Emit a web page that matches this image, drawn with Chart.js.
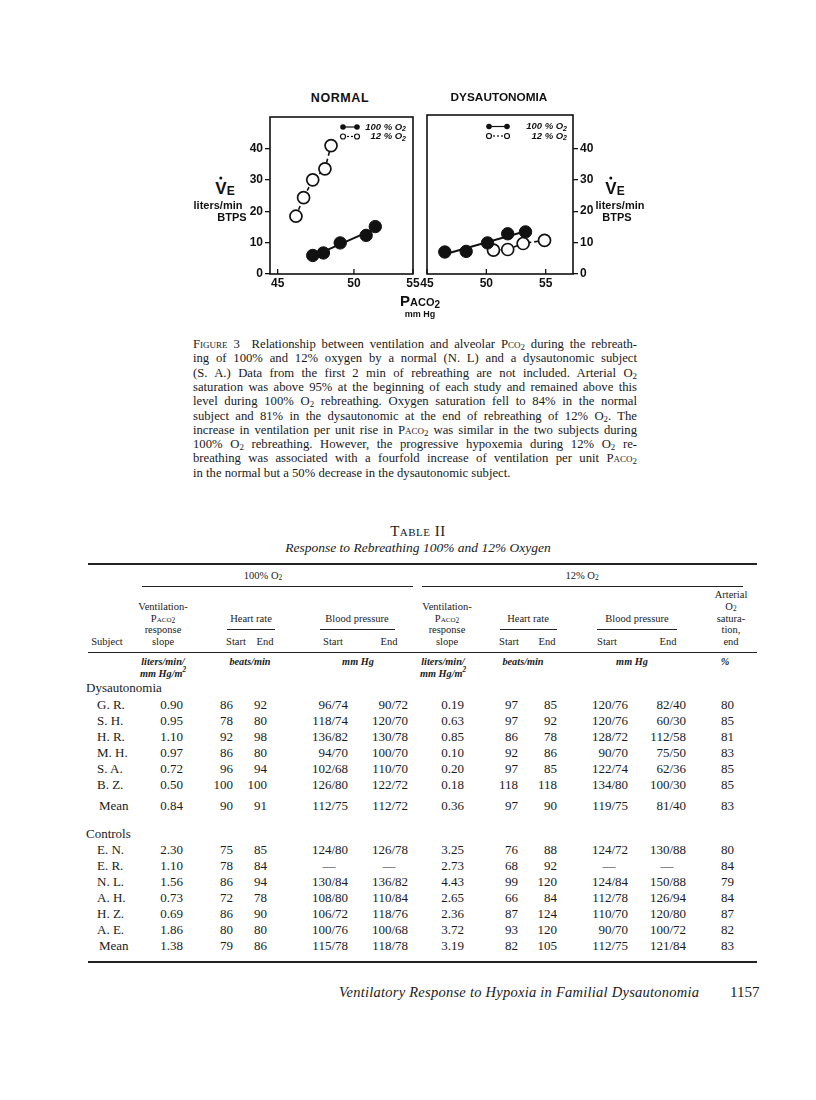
<!DOCTYPE html>
<html>
<head>
<meta charset="utf-8">
<script src="https://cdn.jsdelivr.net/npm/chart.js@4"></script>
<style>
body { margin: 0; background: #fff; }
#page { position: relative; width: 816px; height: 1100px; overflow: hidden; background: #fff;
        font-family: "Liberation Serif", serif; color: #1a1a1a; }
.abs { position: absolute; white-space: nowrap; line-height: 1; }
canvas { position: absolute; }
.sans { font-family: "Liberation Sans", Arial, sans-serif; font-weight: bold; color: #111; }
.cap { font-size: 12.7px; line-height: 14px; width: 444px; text-align: justify; text-align-last: justify; }
.cap.last { text-align-last: left; }
.sc { font-variant: small-caps; }
.tb { font-size: 13px; line-height: 14px; }
.th { font-size: 10.5px; line-height: 11px; }
.un { font-size: 10.3px; line-height: 11px; font-style: italic; font-weight: bold; }
.rule { position: absolute; background: #222; }
sub, sup { font-size: 70%; line-height: 0; }
sub { vertical-align: -0.2em; }
.vdot { position: relative; }
.vdot i { position: absolute; left: 50%; top: -2px; width: 3px; height: 3px; margin-left: -1.5px; border-radius: 50%; background: #111; }
.ve-e { font-size: 12px; position: relative; top: 1px; }
</style>
</head>
<body>
<div id="page">
  <canvas id="normalChart" width="190" height="190" style="left:240px; top:105px;"></canvas>
  <canvas id="dysChart" width="195" height="190" style="left:412px; top:105px;"></canvas>
</div>
<script>
// values: PACO2 (mm Hg) and VE (liters/min BTPS)
const xTickLabels = ['45', '50', '55'];
const xTickValues = [45, 50, 55];
const yTickValues = [0, 10, 20, 30, 40];
const keyLabels = ['100 % O', '12 % O'];

const normalPaco2_100 = [47.3, 48.0, 49.1, 50.8, 51.4];
const normalVe_100    = [5.9, 6.7, 9.9, 12.3, 15.1];
const normalPaco2_12  = [46.2, 46.7, 47.3, 48.1, 48.5];
const normalVe_12     = [18.4, 24.3, 30.0, 33.5, 40.9];

const dysPaco2_100 = [46.5, 48.3, 50.1, 51.8, 53.3];
const dysVe_100    = [7.0, 7.2, 9.9, 12.8, 13.4];
const dysPaco2_12  = [50.6, 51.8, 53.1, 54.9];
const dysVe_12     = [7.6, 7.8, 9.7, 10.7];

// table II
const dysRows = [
  ['G. R.', '0.90', '86', '92', '96/74', '90/72', '0.19', '97', '85', '120/76', '82/40', '80'],
  ['S. H.', '0.95', '78', '80', '118/74', '120/70', '0.63', '97', '92', '120/76', '60/30', '85'],
  ['H. R.', '1.10', '92', '98', '136/82', '130/78', '0.85', '86', '78', '128/72', '112/58', '81'],
  ['M. H.', '0.97', '86', '80', '94/70', '100/70', '0.10', '92', '86', '90/70', '75/50', '83'],
  ['S. A.', '0.72', '96', '94', '102/68', '110/70', '0.20', '97', '85', '122/74', '62/36', '85'],
  ['B. Z.', '0.50', '100', '100', '126/80', '122/72', '0.18', '118', '118', '134/80', '100/30', '85']
];
const dysMean = ['Mean', '0.84', '90', '91', '112/75', '112/72', '0.36', '97', '90', '119/75', '81/40', '83'];
const ctlRows = [
  ['E. N.', '2.30', '75', '85', '124/80', '126/78', '3.25', '76', '88', '124/72', '130/88', '80'],
  ['E. R.', '1.10', '78', '84', '—', '—', '2.73', '68', '92', '—', '—', '84'],
  ['N. L.', '1.56', '86', '94', '130/84', '136/82', '4.43', '99', '120', '124/84', '150/88', '79'],
  ['A. H.', '0.73', '72', '78', '108/80', '110/84', '2.65', '66', '84', '112/78', '126/94', '84'],
  ['H. Z.', '0.69', '86', '90', '106/72', '118/76', '2.36', '87', '124', '110/70', '120/80', '87'],
  ['A. E.', '1.86', '80', '80', '100/76', '100/68', '3.72', '93', '120', '90/70', '100/72', '82']
];
const ctlMean = ['Mean', '1.38', '79', '86', '115/78', '118/78', '3.19', '82', '105', '112/75', '121/84', '83'];

const page = document.getElementById('page');

function put(x, y, html, align, cls) {
  const d = document.createElement('div');
  d.className = 'abs ' + (cls || '');
  d.innerHTML = html;
  d.style.left = x + 'px';
  d.style.top = y + 'px';
  const tx = align === 'c' ? '-50%' : (align === 'r' ? '-100%' : '0');
  d.style.transform = 'translate(' + tx + ', -50%)';
  page.appendChild(d);
  return d;
}
function rule(x0, x1, y, h) {
  const d = document.createElement('div');
  d.className = 'rule';
  d.style.left = x0 + 'px';
  d.style.width = (x1 - x0) + 'px';
  d.style.top = y + 'px';
  d.style.height = (h || 1) + 'px';
  page.appendChild(d);
}

// ---------- charts ----------
function pts(xs, ys) {
  return xs.map((x, i) => ({ x: x, y: ys[i] }));
}
// least squares line drawn across the range of the points
function fitLine(xs, ys) {
  const n = xs.length;
  const mx = xs.reduce((a, b) => a + b, 0) / n;
  const my = ys.reduce((a, b) => a + b, 0) / n;
  let sxy = 0, sxx = 0;
  for (let i = 0; i < n; i++) {
    sxy += (xs[i] - mx) * (ys[i] - my);
    sxx += (xs[i] - mx) * (xs[i] - mx);
  }
  const b = sxy / sxx, a = my - b * mx;
  const x0 = Math.min(...xs), x1 = Math.max(...xs);
  return [{ x: x0, y: a + b * x0 }, { x: x1, y: a + b * x1 }];
}

const framePlugin = {
  id: 'frame',
  afterDraw(chart) {
    const ctx = chart.ctx, a = chart.chartArea;
    ctx.save();
    ctx.strokeStyle = '#111';
    ctx.lineWidth = 1.6;
    ctx.strokeRect(a.left, a.top, a.right - a.left, a.bottom - a.top);
    // small inward ticks on the x axis
    ctx.lineWidth = 1.3;
    chart.scales.x.ticks.forEach(t => {
      const px = chart.scales.x.getPixelForValue(t.value);
      ctx.beginPath();
      ctx.moveTo(px, a.bottom);
      ctx.lineTo(px, a.bottom - 5);
      ctx.stroke();
    });
    ctx.restore();
  }
};

const keyPlugin = {
  id: 'key',
  afterDraw(chart, args, o) {
    const ctx = chart.ctx, a = chart.chartArea;
    ctx.save();
    ctx.strokeStyle = '#111';
    ctx.fillStyle = '#111';
    keyLabels.forEach((label, k) => {
      const filled = k === 0;
      const y = a.top + o.dy + k * 9.5;
      const x0 = a.right - o.symLeft, x1 = x0 + o.symW;
      ctx.lineWidth = 1.2;
      ctx.setLineDash(filled ? [] : [2, 2]);
      ctx.beginPath();
      ctx.moveTo(x0, y);
      ctx.lineTo(x1, y);
      ctx.stroke();
      ctx.setLineDash([]);
      [x0, x1].forEach(cx => {
        ctx.beginPath();
        ctx.arc(cx, y, filled ? 2.8 : 2.5, 0, Math.PI * 2);
        if (filled) {
          ctx.fill();
        } else {
          ctx.fillStyle = '#fff';
          ctx.fill();
          ctx.fillStyle = '#111';
          ctx.stroke();
        }
      });
      const tx = a.right - o.textRight;
      ctx.textBaseline = 'middle';
      ctx.textAlign = 'right';
      ctx.font = 'italic bold 7px "Liberation Sans"';
      ctx.fillText('2', tx, y + 2.5);
      const w2 = ctx.measureText('2').width;
      ctx.font = 'italic bold 9.5px "Liberation Sans"';
      ctx.fillText(label, tx - w2, y);
    });
    ctx.restore();
  }
};

const tickFont = { family: 'Liberation Sans', size: 12, weight: 'bold' };

function makePanel(id, cfg) {
  const ctx = document.getElementById(id).getContext('2d');
  return new Chart(ctx, {
    type: 'scatter',
    data: {
      datasets: [
        { data: fitLine(cfg.x100, cfg.y100), showLine: true, borderColor: '#111',
          borderWidth: 2, pointRadius: 0, order: 2 },
        { data: pts(cfg.x12, cfg.y12), showLine: true, borderColor: '#111',
          borderWidth: 1.6, borderDash: [4, 3], pointRadius: 0, order: 2 },
        { data: pts(cfg.x100, cfg.y100), pointRadius: 6.2, pointBackgroundColor: '#111',
          pointBorderColor: '#111', pointBorderWidth: 1, order: 0 },
        { data: pts(cfg.x12, cfg.y12), pointRadius: 6, pointBackgroundColor: '#fff',
          pointBorderColor: '#111', pointBorderWidth: 1.7, order: 0 }
      ]
    },
    options: {
      responsive: false,
      animation: false,
      events: [],
      layout: { padding: cfg.padding },
      plugins: { legend: { display: false }, tooltip: { enabled: false }, key: cfg.key },
      scales: {
        x: {
          type: 'linear', min: cfg.xMin, max: cfg.xMax,
          afterBuildTicks: s => { s.ticks = cfg.xTicks(s).map(v => ({ value: v })); },
          afterFit: s => { s.height = 21; },
          grid: { display: false, drawTicks: false },
          border: { display: false },
          ticks: { color: '#111', font: tickFont, padding: 2, maxRotation: 0, autoSkip: false,
                   callback: (v, i) => xTickLabels[i] }
        },
        y: {
          type: 'linear', min: 0, max: cfg.yMax, position: cfg.yPos,
          afterBuildTicks: s => { s.ticks = yTickValues.map(v => ({ value: v })); },
          afterFit: s => { s.width = cfg.yWidth; },
          grid: { drawOnChartArea: false, drawTicks: true, tickLength: 5, color: '#111', lineWidth: 1.3 },
          border: { display: false },
          ticks: { color: '#111', font: tickFont, padding: 2 }
        }
      }
    },
    plugins: [framePlugin, keyPlugin]
  });
}

makePanel('normalChart', {
  x100: normalPaco2_100, y100: normalVe_100, x12: normalPaco2_12, y12: normalVe_12,
  xMin: 44.5, xMax: 53.87, yMax: 50, yPos: 'left', yWidth: 30,
  xTicks: s => xTickValues.slice(0, 2).concat([s.max]),
  padding: { left: 0, top: 12, right: 17, bottom: 0 },
  key: { dy: 10, symLeft: 70, symW: 14, textRight: 7 }
});
makePanel('dysChart', {
  x100: dysPaco2_100, y100: dysVe_100, x12: dysPaco2_12, y12: dysVe_12,
  xMin: 45, xMax: 57.3, yMax: 50.6, yPos: 'right', yWidth: 34,
  xTicks: s => xTickValues,
  padding: { left: 15, top: 10, right: 0, bottom: 0 },
  key: { dy: 11.5, symLeft: 84, symW: 18, textRight: 6 }
});

// chart labels
put(340, 98, 'NORMAL', 'c', 'sans').style.cssText += 'font-size:12.5px; letter-spacing:0.6px;';
put(499, 98, 'DYSAUTONOMIA', 'c', 'sans').style.cssText += 'font-size:11.8px;';
const veHtml = '<span class="vdot">V<i></i></span><span class="ve-e">E</span>';
put(225, 188, veHtml, 'c', 'sans').style.cssText += 'font-size:17px;';
put(218, 205, 'liters/min', 'c', 'sans').style.cssText += 'font-size:11px;';
put(232, 217, 'BTPS', 'c', 'sans').style.cssText += 'font-size:11px;';
put(615, 188, veHtml, 'c', 'sans').style.cssText += 'font-size:17px;';
put(620, 205, 'liters/min', 'c', 'sans').style.cssText += 'font-size:11px;';
put(617, 217, 'BTPS', 'c', 'sans').style.cssText += 'font-size:11px;';
put(420, 300, 'P<span style="font-size:11px">ACO</span><sub style="font-size:10px">2</sub>', 'c', 'sans').style.cssText += 'font-size:15px;';
put(420, 314, 'mm Hg', 'c', 'sans').style.cssText += 'font-size:9px;';

// ---------- caption ----------
const capLines = [
  '<span class="sc">Figure</span> 3&nbsp; Relationship between ventilation and alveolar P<span class="sc">co</span><sub>2</sub> during the rebreath-',
  'ing of 100% and 12% oxygen by a normal (N. L) and a dysautonomic subject',
  '(S. A.) Data from the first 2 min of rebreathing are not included. Arterial O<sub>2</sub>',
  'saturation was above 95% at the beginning of each study and remained above this',
  'level during 100% O<sub>2</sub> rebreathing. Oxygen saturation fell to 84% in the normal',
  'subject and 81% in the dysautonomic at the end of rebreathing of 12% O<sub>2</sub>. The',
  'increase in ventilation per unit rise in P<span class="sc">aco</span><sub>2</sub> was similar in the two subjects during',
  '100% O<sub>2</sub> rebreathing. However, the progressive hypoxemia during 12% O<sub>2</sub> re-',
  'breathing was associated with a fourfold increase of ventilation per unit P<span class="sc">aco</span><sub>2</sub>',
  'in the normal but a 50% decrease in the dysautonomic subject.'
];
capLines.forEach((h, i) => {
  put(193, 344 + i * 14.3, h, 'l', 'cap' + (i === capLines.length - 1 ? ' last' : ''));
});

// ---------- table ----------
put(418, 531, 'T<span class="sc">able</span> II', 'c').style.cssText += 'font-size:15px; letter-spacing:0.5px;';
put(418, 548, 'Response to Rebreathing 100% and 12% Oxygen', 'c').style.cssText += 'font-size:13.5px; font-style:italic;';
rule(88, 757, 563, 2);
put(263, 575, '100% O<sub>2</sub>', 'c', 'th');
put(582, 575, '12% O<sub>2</sub>', 'c', 'th');
rule(142, 413, 586);
rule(422, 743, 586);

const hStep = 11.7;
[163, 447].forEach(x => {
  ['Ventilation-', 'P<span class="sc">aco</span><sub>2</sub>', 'response', 'slope'].forEach((t, i) => {
    put(x, 641 - (3 - i) * hStep, t, 'c', 'th');
  });
});
put(107, 641, 'Subject', 'c', 'th');
put(251, 618, 'Heart rate', 'c', 'th');
rule(227, 275, 629);
put(236, 641, 'Start', 'c', 'th');
put(265, 641, 'End', 'c', 'th');
put(357, 618, 'Blood pressure', 'c', 'th');
rule(320, 395, 629);
put(333, 641, 'Start', 'c', 'th');
put(389, 641, 'End', 'c', 'th');
put(528, 618, 'Heart rate', 'c', 'th');
rule(500, 557, 629);
put(509, 641, 'Start', 'c', 'th');
put(547, 641, 'End', 'c', 'th');
put(637, 618, 'Blood pressure', 'c', 'th');
rule(597, 677, 629);
put(607, 641, 'Start', 'c', 'th');
put(668, 641, 'End', 'c', 'th');
['Arterial', 'O<sub>2</sub>', 'satura-', 'tion,', 'end'].forEach((t, i) => {
  put(731, 641 - (4 - i) * hStep, t, 'c', 'th');
});
rule(88, 757, 652);

put(163, 661, 'liters/min/', 'c', 'un');
put(163, 673, 'mm Hg/m<sup>2</sup>', 'c', 'un');
put(250, 661, 'beats/min', 'c', 'un');
put(358, 661, 'mm Hg', 'c', 'un');
put(443, 661, 'liters/min/', 'c', 'un');
put(443, 673, 'mm Hg/m<sup>2</sup>', 'c', 'un');
put(523, 661, 'beats/min', 'c', 'un');
put(632, 661, 'mm Hg', 'c', 'un');
put(725, 661, '%', 'c', 'un');

const colRight = [0, 183, 233, 267, 348, 408, 464, 518, 557, 628, 686, 734];
function tableRow(row, y, isMean) {
  row.forEach((v, c) => {
    if (c === 0) {
      put(isMean ? 99 : 97, y, v, 'l', 'tb');
    } else if (v === '—') {
      put(colRight[c] - 19, y, v, 'c', 'tb');
    } else {
      put(colRight[c], y, v, 'r', 'tb');
    }
  });
}
put(86, 688, 'Dysautonomia', 'l', 'tb');
dysRows.forEach((r, i) => tableRow(r, 705 + i * 16, false));
tableRow(dysMean, 806, true);
put(86, 834, 'Controls', 'l', 'tb');
ctlRows.forEach((r, i) => tableRow(r, 850 + i * 16, false));
tableRow(ctlMean, 946, true);
rule(88, 757, 961, 2);

// ---------- running footer ----------
put(339, 992, 'Ventilatory Response to Hypoxia in Familial Dysautonomia', 'l').style.cssText += 'font-size:14.5px; font-style:italic; letter-spacing:0.25px;';
put(730, 992, '1157', 'l').style.cssText += 'font-size:15px;';
</script>
</body>
</html>
